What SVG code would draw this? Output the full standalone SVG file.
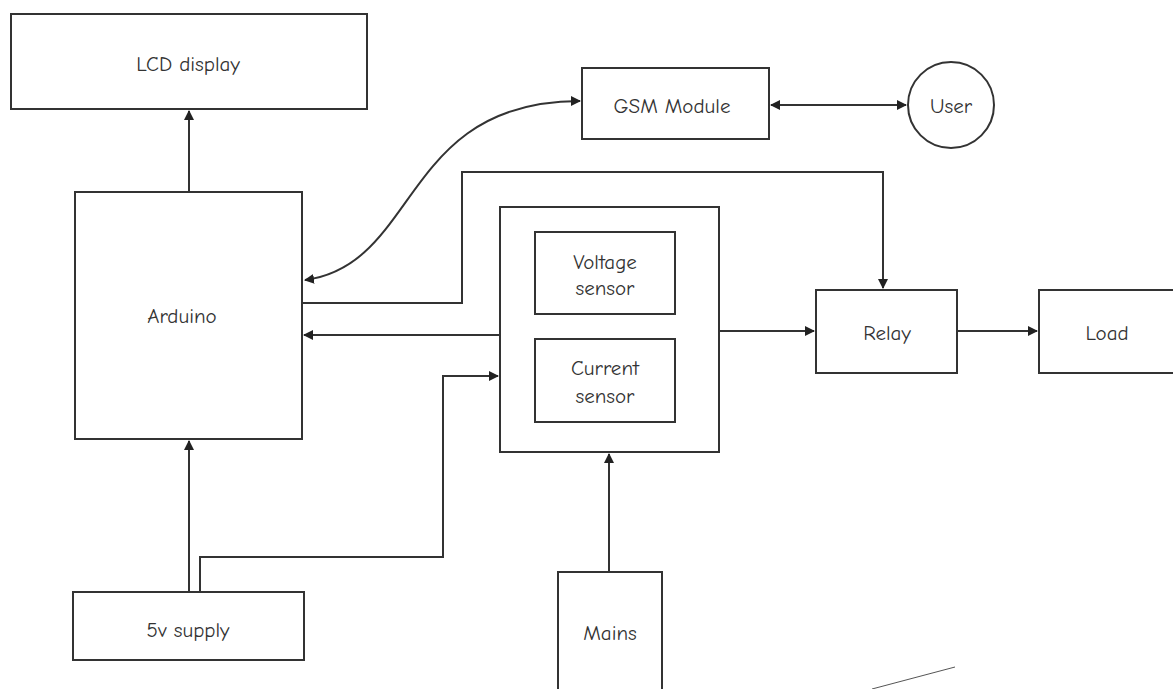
<svg xmlns="http://www.w3.org/2000/svg" width="1173" height="689" viewBox="0 0 1173 689">
<defs>
<style>
.box{fill:#fff;stroke:#333;stroke-width:2}
.ln{fill:none;stroke:#333;stroke-width:2}
text{font-family:"Comic Neue","Open Sans","Liberation Sans",sans-serif;font-size:21px;fill:#333;text-anchor:middle;dominant-baseline:central}
</style>
<marker id="ah" viewBox="0 0 10 10" refX="9" refY="5" markerWidth="5" markerHeight="5" orient="auto-start-reverse" markerUnits="strokeWidth">
<path d="M0,0 L10,5 L0,10 Z" fill="#222"/>
</marker>
</defs>
<rect width="1173" height="689" fill="#fff"/>
<g id="connectors">
<line class="ln" x1="189" y1="192" x2="189" y2="111" marker-end="url(#ah)"/>
<line class="ln" x1="189" y1="592" x2="189" y2="441" marker-end="url(#ah)"/>
<path class="ln" d="M200 592 V557 H443 V376 H498" marker-end="url(#ah)"/>
<path class="ln" d="M305 280 C420 265 400 101 580 101" marker-start="url(#ah)" marker-end="url(#ah)"/>
<line class="ln" x1="771" y1="105" x2="906" y2="105" marker-start="url(#ah)" marker-end="url(#ah)"/>
<path class="ln" d="M302 303 H462 V172 H883 V288" marker-end="url(#ah)"/>
<line class="ln" x1="500" y1="335" x2="304" y2="335" marker-end="url(#ah)"/>
<line class="ln" x1="719" y1="331" x2="814" y2="331" marker-end="url(#ah)"/>
<line class="ln" x1="957" y1="331" x2="1037" y2="331" marker-end="url(#ah)"/>
<line class="ln" x1="609" y1="572" x2="609" y2="454" marker-end="url(#ah)"/>
<line x1="872" y1="689" x2="955" y2="667" stroke="#555" stroke-width="1"/>
</g>
<g id="lcd"><rect class="box" x="11" y="14" width="356" height="95"/><text x="188" y="64">LCD display</text></g>
<g id="arduino"><rect class="box" x="75" y="192" width="227" height="247"/><text x="182" y="316">Arduino</text></g>
<g id="supply"><rect class="box" x="73" y="592" width="231" height="68"/><text x="188" y="630">5v supply</text></g>
<g id="gsm"><rect class="box" x="582" y="68" width="187" height="71"/><text x="672" y="106">GSM Module</text></g>
<g id="user"><circle class="box" cx="951" cy="105" r="43"/><text x="951" y="106">User</text></g>
<g id="sensors"><rect class="box" x="500" y="207" width="219" height="245"/></g>
<g id="voltage"><rect class="box" x="535" y="232" width="140" height="82"/><text x="605" y="262">Voltage</text><text x="605" y="288">sensor</text></g>
<g id="current"><rect class="box" x="535" y="339" width="140" height="83"/><text x="605" y="368">Current</text><text x="605" y="396">sensor</text></g>
<g id="relay"><rect class="box" x="816" y="290" width="141" height="83"/><text x="887" y="333">Relay</text></g>
<g id="load"><rect class="box" x="1039" y="290" width="140" height="83"/><text x="1107" y="333">Load</text></g>
<g id="mains"><rect class="box" x="558" y="572" width="104" height="130"/><text x="610" y="633">Mains</text></g>
</svg>
